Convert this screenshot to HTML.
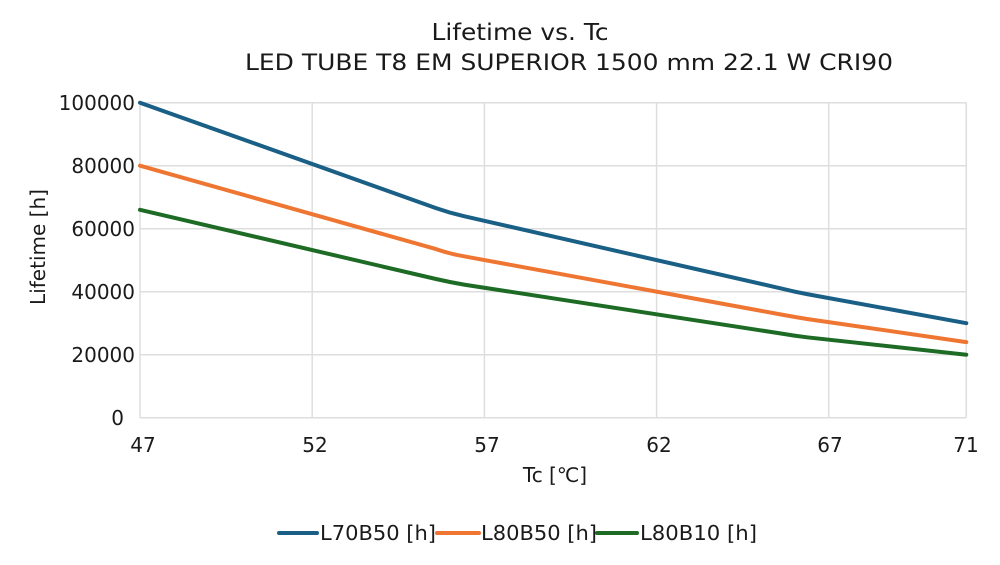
<!DOCTYPE html>
<html>
<head>
<meta charset="utf-8">
<style>
  html, body { margin:0; padding:0; background:#fff; }
  svg { display:block; }
  text { font-family: "DejaVu Sans", "Liberation Sans", sans-serif; fill:#1a1a1a; }
</style>
</head>
<body>
<svg width="1000" height="565" viewBox="0 0 1000 565" xmlns="http://www.w3.org/2000/svg">
  <rect width="1000" height="565" fill="#fff"/>
  <!-- Title -->
  <text x="520" y="40" font-size="23" text-anchor="middle" textLength="177" lengthAdjust="spacingAndGlyphs">Lifetime vs. Tc</text>
  <text x="569" y="70" font-size="22" text-anchor="middle" textLength="648" lengthAdjust="spacingAndGlyphs">LED TUBE T8 EM SUPERIOR 1500 mm 22.1 W CRI90</text>

  <!-- Grid -->
  <g stroke="#dedede" stroke-width="1.5" fill="none">
    <line x1="140" y1="102.7" x2="966.3" y2="102.7"/>
    <line x1="140" y1="165.7" x2="966.3" y2="165.7"/>
    <line x1="140" y1="228.7" x2="966.3" y2="228.7"/>
    <line x1="140" y1="291.7" x2="966.3" y2="291.7"/>
    <line x1="140" y1="354.7" x2="966.3" y2="354.7"/>
    <line x1="140" y1="417.7" x2="966.3" y2="417.7"/>
    <line x1="140" y1="102.7" x2="140" y2="417.7"/>
    <line x1="312.2" y1="102.7" x2="312.2" y2="417.7"/>
    <line x1="484.4" y1="102.7" x2="484.4" y2="417.7"/>
    <line x1="656.6" y1="102.7" x2="656.6" y2="417.7"/>
    <line x1="828.7" y1="102.7" x2="828.7" y2="417.7"/>
    <line x1="966.3" y1="102.7" x2="966.3" y2="417.7"/>
  </g>

  <!-- Y tick labels -->
  <g font-size="20" text-anchor="end">
    <text x="135" y="110">100000</text>
    <text x="135" y="173">80000</text>
    <text x="135" y="236">60000</text>
    <text x="135" y="299">40000</text>
    <text x="135" y="362">20000</text>
    <text x="124" y="425">0</text>
  </g>

  <!-- X tick labels -->
  <g font-size="20" text-anchor="middle">
    <text x="143" y="452">47</text>
    <text x="315" y="452">52</text>
    <text x="487" y="452">57</text>
    <text x="659" y="452">62</text>
    <text x="830" y="452">67</text>
    <text x="966" y="452">71</text>
  </g>

  <!-- Axis titles -->
  <text x="555" y="482" font-size="20" text-anchor="middle">Tc [℃]</text>
  <text transform="translate(45,247) rotate(-90)" font-size="20" text-anchor="middle">Lifetime [h]</text>

  <!-- Series -->
  <g fill="none" stroke-width="4" stroke-linejoin="round" stroke-linecap="round">
    <path stroke="#1a5f86" d="M140,102.7 L436,208.1 Q450,213 464,216.2 L781,288.4 Q794.2,291.7 807,294.1 L966.3,323.2"/>
    <path stroke="#ef7632" d="M140,165.7 L436,249.1 Q450,253.9 464,256.3 L781,314.5 Q794.2,316.9 807,319 L966.3,342.1"/>
    <path stroke="#1e6b26" d="M140,209.8 L436,279 Q450,282.25 464,284.6 L781,333.5 Q794.2,335.8 807,337.3 L966.3,354.7"/>
  </g>

  <!-- Legend -->
  <g stroke-width="4" stroke-linecap="round">
    <line x1="279" y1="533" x2="317" y2="533" stroke="#1a5f86"/>
    <line x1="437" y1="533" x2="479" y2="533" stroke="#ef7632"/>
    <line x1="597" y1="533" x2="637" y2="533" stroke="#1e6b26"/>
  </g>
  <g font-size="20">
    <text x="320" y="540" textLength="116" lengthAdjust="spacingAndGlyphs">L70B50 [h]</text>
    <text x="481" y="540" textLength="116" lengthAdjust="spacingAndGlyphs">L80B50 [h]</text>
    <text x="640" y="540" textLength="117" lengthAdjust="spacingAndGlyphs">L80B10 [h]</text>
  </g>
</svg>
</body>
</html>
